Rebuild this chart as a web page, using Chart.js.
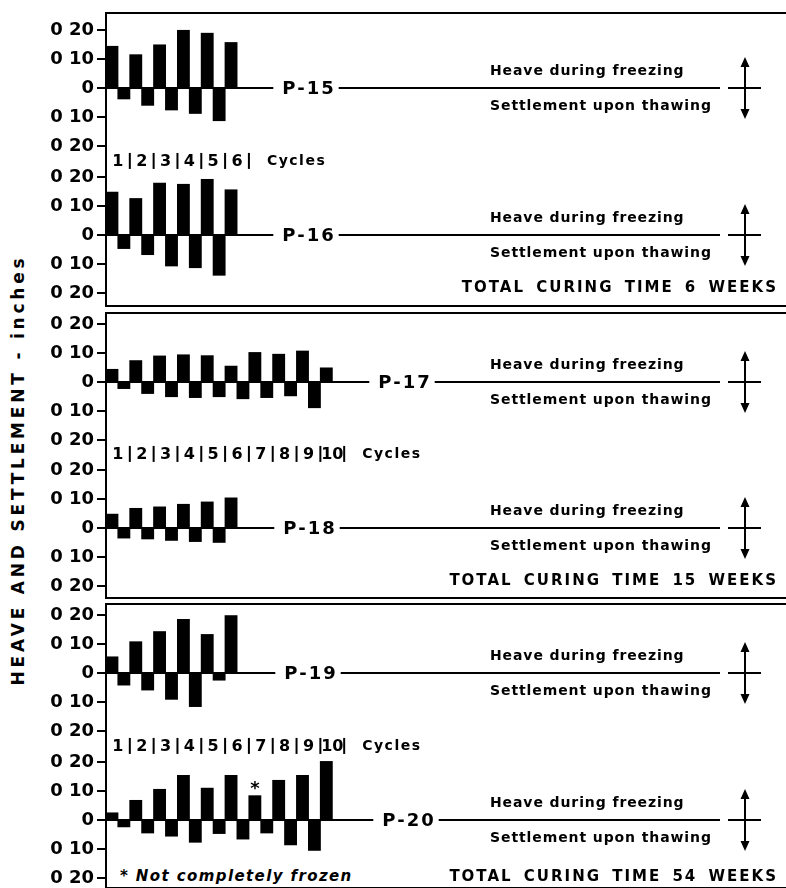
<!DOCTYPE html>
<html>
<head>
<meta charset="utf-8">
<script src="https://cdn.jsdelivr.net/npm/chart.js@4"></script>
<style>
  html, body { margin: 0; padding: 0; background: #fff; }
  #page { position: relative; width: 786px; height: 888px; overflow: hidden; background: #fff;
          font-family: "DejaVu Sans", sans-serif; font-weight: bold; color: #000; }
  canvas { position: absolute; left: 0; }
  .box { position: absolute; left: 105px; right: 0; border-top: 2px solid #000; border-bottom: 2px solid #000;
         border-left: 2px solid #000; }
  .note { position: absolute; font-size: 14px; letter-spacing: 0.9px; white-space: nowrap; line-height: 16px; }
  .total { position: absolute; right: 8px; font-size: 15px; letter-spacing: 2px; word-spacing: 4px;
           white-space: nowrap; line-height: 18px; }
  #ytitle { position: absolute; left: 18px; top: 470px; font-size: 17px; letter-spacing: 3.8px; white-space: nowrap;
            transform: translate(-50%, -50%) rotate(-90deg); }
  #footnote { position: absolute; left: 120px; top: 867px; font-size: 15px; font-style: italic;
              letter-spacing: 1.4px; white-space: nowrap; line-height: 18px; }
</style>
</head>
<body>
<div id="page">
  <div class="box" style="top:12px;height:291px"></div>
  <div class="box" style="top:312px;height:283px"></div>
  <div class="box" style="top:603px;height:282px"></div>
  <div id="ytitle">HEAVE AND SETTLEMENT - inches</div>
  <div id="footnote">* Not completely frozen</div>
</div>
<script>
// Heave during freezing / settlement upon thawing, inches, one value per cycle
const p15Heave  = [0.145, 0.116, 0.150, 0.200, 0.190, 0.158];
const p15Settle = [0.039, 0.061, 0.077, 0.089, 0.114];
const p16Heave  = [0.149, 0.127, 0.180, 0.176, 0.193, 0.157];
const p16Settle = [0.048, 0.069, 0.108, 0.114, 0.140];
const p17Heave  = [0.045, 0.075, 0.091, 0.095, 0.092, 0.056, 0.103, 0.097, 0.108, 0.050];
const p17Settle = [0.024, 0.041, 0.052, 0.055, 0.052, 0.059, 0.055, 0.049, 0.090];
const p18Heave  = [0.049, 0.069, 0.074, 0.083, 0.091, 0.105];
const p18Settle = [0.036, 0.039, 0.044, 0.048, 0.051];
const p19Heave  = [0.057, 0.109, 0.144, 0.186, 0.134, 0.199];
const p19Settle = [0.043, 0.060, 0.092, 0.117, 0.026];
const p20Heave  = [0.026, 0.069, 0.107, 0.155, 0.111, 0.155, 0.085, 0.138, 0.155, 0.203];
const p20Settle = [0.025, 0.046, 0.057, 0.078, 0.048, 0.067, 0.046, 0.087, 0.106];
const p20NotFrozen = [7];   // cycles marked with *

const cycles6  = ['1', '2', '3', '4', '5', '6'];
const cycles10 = ['1', '2', '3', '4', '5', '6', '7', '8', '9', '10'];

const yTicks      = [0.2, 0.1, 0, -0.1, -0.2];
const yTickLabels = ['0 20', '0 10', '0', '0 10', '0 20'];

const curingTimes = ['TOTAL CURING TIME 6 WEEKS', 'TOTAL CURING TIME 15 WEEKS', 'TOTAL CURING TIME 54 WEEKS'];

const FONT = '"DejaVu Sans", sans-serif';

// layout of the six panels (zero line position on the page)
const panels = [
  { name: 'P-15', heave: p15Heave, settle: p15Settle, zero: 88,  labelX: 308 },
  { name: 'P-16', heave: p16Heave, settle: p16Settle, zero: 235, labelX: 308, cycles: cycles6, total: 0 },
  { name: 'P-17', heave: p17Heave, settle: p17Settle, zero: 382, labelX: 404 },
  { name: 'P-18', heave: p18Heave, settle: p18Settle, zero: 528, labelX: 309, cycles: cycles10, total: 1 },
  { name: 'P-19', heave: p19Heave, settle: p19Settle, zero: 673, labelX: 310 },
  { name: 'P-20', heave: p20Heave, settle: p20Settle, zero: 820, labelX: 408, cycles: cycles10, total: 2, partial: p20NotFrozen }
];

const line = (ctx, x1, y1, x2, y2) => {
  ctx.beginPath();
  ctx.moveTo(x1, y1);
  ctx.lineTo(x2, y2);
  ctx.stroke();
};

const panelDecor = {
  id: 'panelDecor',
  afterDatasetsDraw(chart, args, opts) {
    const { ctx, chartArea } = chart;
    const x = chart.scales.x, y = chart.scales.y;
    const y0 = y.getPixelForValue(0);
    ctx.save();
    ctx.strokeStyle = '#000';
    ctx.fillStyle = '#000';
    ctx.lineWidth = 2;

    // zero line broken by the panel name
    ctx.font = `bold 18px ${FONT}`;
    ctx.letterSpacing = '2px';
    const w = ctx.measureText(opts.label).width;
    line(ctx, chartArea.left, y0, opts.labelX - w / 2 - 8, y0);
    line(ctx, opts.labelX + w / 2 + 4, y0, 720, y0);
    ctx.textAlign = 'center';
    ctx.textBaseline = 'middle';
    ctx.fillText(opts.label, opts.labelX + 1, y0 + 1);

    // heave / settlement key
    line(ctx, 728, y0, 761, y0);
    line(ctx, 745, y0 - 24, 745, y0 + 24);
    ctx.beginPath();
    ctx.moveTo(745, y0 - 31); ctx.lineTo(740.5, y0 - 21); ctx.lineTo(749.5, y0 - 21); ctx.closePath();
    ctx.moveTo(745, y0 + 31); ctx.lineTo(740.5, y0 + 21); ctx.lineTo(749.5, y0 + 21); ctx.closePath();
    ctx.fill();

    // cycle numbers row above this panel
    if (opts.cycles) {
      const yc = y.getPixelForValue(0.2) - 16;
      ctx.font = `bold 16px ${FONT}`;
      ctx.letterSpacing = '0px';
      let xr = 0;
      opts.cycles.forEach((c, i) => {
        const xl = x.getPixelForValue(2 * i - 0.5);
        xr = x.getPixelForValue(2 * i + 1.5);
        ctx.fillText(c, (xl + xr) / 2, yc + 1);
        line(ctx, xl, yc - 8, xl, yc + 8);
      });
      line(ctx, xr, yc - 8, xr, yc + 8);
      ctx.textAlign = 'left';
      ctx.font = `bold 14px ${FONT}`;
      ctx.letterSpacing = '1.5px';
      ctx.fillText('Cycles', xr + 18, yc);
    }

    // asterisk over cycles that were not completely frozen
    if (opts.partial) {
      const meta = chart.getDatasetMeta(0);
      ctx.textAlign = 'center';
      ctx.font = `bold 18px ${FONT}`;
      ctx.letterSpacing = '0px';
      opts.partial.forEach(c => {
        const bar = meta.data[c - 1];
        ctx.fillText('*', bar.x, bar.y - 6);
      });
    }
    ctx.restore();
  }
};

const page = document.getElementById('page');
const H = 180;

panels.forEach(p => {
  const canvas = document.createElement('canvas');
  canvas.width = 786;
  canvas.height = H;
  canvas.style.top = (p.zero - H / 2) + 'px';
  page.appendChild(canvas);

  const barStyle = { backgroundColor: '#000', borderWidth: 0, grouped: false, barPercentage: 1.08, categoryPercentage: 1 };

  new Chart(canvas, {
    type: 'bar',
    data: {
      datasets: [
        { ...barStyle, label: 'Heave during freezing', data: p.heave.map((v, i) => ({ x: 2 * i, y: v })) },
        { ...barStyle, label: 'Settlement upon thawing', data: p.settle.map((v, i) => ({ x: 2 * i + 1, y: -v })) }
      ]
    },
    options: {
      responsive: false,
      animation: false,
      devicePixelRatio: 1,
      layout: { padding: 0 },
      plugins: {
        legend: { display: false },
        tooltip: { enabled: false },
        panelDecor: { label: p.name, labelX: p.labelX, cycles: p.cycles, partial: p.partial }
      },
      scales: {
        x: {
          type: 'linear', min: -0.5, max: 56.6, offset: false, display: false,
          afterBuildTicks: s => { s.ticks = []; }
        },
        y: {
          min: -0.31,
          max: 0.31,
          afterBuildTicks: s => { s.ticks = yTicks.map(v => ({ value: v })); },
          afterFit: s => { s.width = 106; s.paddingTop = 0; s.paddingBottom = 0; },
          border: { display: false },
          grid: { drawOnChartArea: false, drawTicks: true, tickLength: 9, color: '#000', lineWidth: 2 },
          ticks: {
            autoSkip: false,
            padding: 3,
            color: '#000',
            font: { family: FONT, size: 18, weight: 'bold' },
            callback: v => yTickLabels[yTicks.findIndex(t => Math.abs(t - v) < 1e-9)]
          }
        }
      }
    },
    plugins: [panelDecor]
  });

  // key text beside the zero line
  const heave = document.createElement('div');
  heave.className = 'note';
  heave.style.left = '490px';
  heave.style.top = (p.zero - 26) + 'px';
  heave.textContent = 'Heave during freezing';
  page.appendChild(heave);

  const settle = document.createElement('div');
  settle.className = 'note';
  settle.style.left = '490px';
  settle.style.top = (p.zero + 9) + 'px';
  settle.textContent = 'Settlement upon thawing';
  page.appendChild(settle);

  if (p.total !== undefined) {
    const t = document.createElement('div');
    t.className = 'total';
    t.style.top = (p.zero + (p.total === 2 ? 47 : 43)) + 'px';
    t.textContent = curingTimes[p.total];
    page.appendChild(t);
  }
});
</script>
</body>
</html>
